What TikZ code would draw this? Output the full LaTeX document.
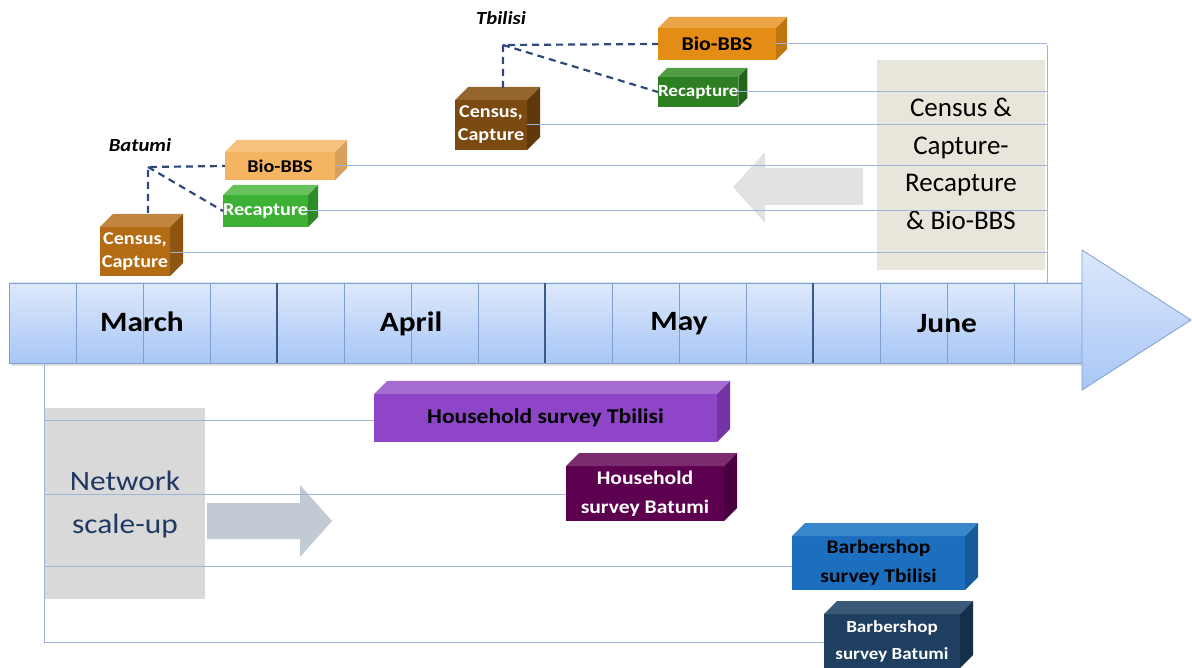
\documentclass[tikz,border=0pt]{standalone}
\usepackage{fontspec}
\setmainfont{Carlito}
\newfontfamily\cw{Carlito}[FakeStretch=1.12]
\definecolor{linec}{HTML}{9DB5D8}
\definecolor{dashc}{HTML}{2F4A78}
\definecolor{barT}{HTML}{DDE9FB}
\definecolor{barB}{HTML}{A8C6F6}
\definecolor{barD}{HTML}{7F9FCF}
\definecolor{barK}{HTML}{3A5A8A}
\definecolor{beige}{HTML}{E8E6DA}
\definecolor{netg}{HTML}{D9D9D9}
\definecolor{netarr}{HTML}{C2CAD3}
\definecolor{leftarr}{HTML}{E2E2E2}
\definecolor{navy}{HTML}{1F3864}
% cube colours: F front, T top, S side
\definecolor{bcenF}{HTML}{B46C14}\definecolor{bcenT}{HTML}{C08540}\definecolor{bcenS}{HTML}{8E5510}
\definecolor{bbioF}{HTML}{F4B461}\definecolor{bbioT}{HTML}{F6C27E}\definecolor{bbioS}{HTML}{D8A05A}
\definecolor{brecF}{HTML}{3DB036}\definecolor{brecT}{HTML}{66C25A}\definecolor{brecS}{HTML}{2E8A28}
\definecolor{tcenF}{HTML}{7A4A10}\definecolor{tcenT}{HTML}{94662E}\definecolor{tcenS}{HTML}{5E390C}
\definecolor{tbioF}{HTML}{E38D14}\definecolor{tbioT}{HTML}{EBA448}\definecolor{tbioS}{HTML}{C07610}
\definecolor{trecF}{HTML}{2E7F22}\definecolor{trecT}{HTML}{519C44}\definecolor{trecS}{HTML}{22641A}
\definecolor{hhtF}{HTML}{8E45C8}\definecolor{hhtT}{HTML}{A46BD0}\definecolor{hhtS}{HTML}{7434A6}
\definecolor{hhbF}{HTML}{5D0050}\definecolor{hhbT}{HTML}{7B2C6F}\definecolor{hhbS}{HTML}{480040}
\definecolor{bstF}{HTML}{1C6EBE}\definecolor{bstT}{HTML}{3A86CC}\definecolor{bstS}{HTML}{175A9C}
\definecolor{bsbF}{HTML}{1F3F60}\definecolor{bsbT}{HTML}{3A5A7A}\definecolor{bsbS}{HTML}{152F4A}
\begin{document}
\begin{tikzpicture}[x=1pt,y=-1pt,
  cub/.style={inner sep=0pt, outer sep=0pt, align=center, anchor=north west},
  tl/.style={draw=linec, line width=1pt},
  dsh/.style={draw=dashc, line width=2.2pt, dash pattern=on 7pt off 5pt},
  cellline/.style={draw=barD, line width=0.8pt},
  monthline/.style={draw=barK, line width=1.2pt},
  month/.style={font=\cw\fontsize{28}{34}\selectfont\bfseries},
  small/.style={font=\cw\fontsize{18}{23}\selectfont\bfseries},
  mid/.style={font=\cw\fontsize{19.3}{29}\selectfont\bfseries},
  city/.style={font=\cw\fontsize{18.5}{22}\selectfont\bfseries\itshape}]
\useasboundingbox (0,0) rectangle (1192,668);
\newcommand\cubefaces[4]{%
  \fill[#3] (#1.north west) -- ++(#2,-#2) -- ([shift={(#2,-#2)}]#1.north east) -- (#1.north east) -- cycle;
  \fill[#4] (#1.north east) -- ++(#2,-#2) -- ([shift={(#2,-#2)}]#1.south east) -- (#1.south east) -- cycle;}

% background panels
\fill[beige] (877,60) rectangle (1045,270);
\node[font=\fontsize{27}{37.5}\selectfont, align=center] (ccr) at (961,164)
  {Census \&\\Capture-\\Recapture\\\& Bio-BBS};
\fill[leftarr] (733,187) -- (765,152) -- (765,168) -- (863,168) -- (863,205) -- (765,205) -- (765,223) -- cycle;

\fill[netg] (44,408) rectangle (205,599);
\node[font=\cw\fontsize{28}{43}\selectfont, text=navy, align=center] (nsu) at (125,505)
  {Network\\scale-up};
\fill[netarr] (207,503) -- (300,503) -- (300,485) -- (332,521) -- (300,557) -- (300,539) -- (207,539) -- cycle;

% timeline bar
\fill[gray!25] (11,286) rectangle (1084,366);
\shade[top color=barT, bottom color=barB] (9,283) rectangle (1082,363);
\draw[barD, line width=0.8pt] (9,283) rectangle (1082,363);
\foreach \xx in {76,143,210,344,411,478,612,679,746,880,947,1014}
  \draw[cellline] (\xx,283) -- (\xx,363);
\foreach \xx in {277,545,813}
  \draw[monthline] (\xx,283) -- (\xx,363);
\shade[top color=barT, bottom color=barB] (1082,250) -- (1191,320) -- (1082,390) -- cycle;
\draw[barD, line width=0.8pt] (1082,250) -- (1191,320) -- (1082,390) -- cycle;
\node[month] (march) at (142,322) {March};
\node[month] (april) at (411,324) {April};
\node[month] (may) at (679,324) {May};
\node[month] (june) at (947,324) {June};

% Batumi cubes
\node[cub, small, fill=bcenF, text=white, minimum width=70pt, minimum height=49pt] (bcen) at (100,227) {Census,\\Capture};
\cubefaces{bcen}{13}{bcenT}{bcenS}
\node[cub, font=\cw\fontsize{18}{22}\selectfont\bfseries, fill=bbioF, text=black, minimum width=110pt, minimum height=28pt] (bbio) at (225,152) {Bio-BBS};
\cubefaces{bbio}{12}{bbioT}{bbioS}
\node[cub, small, fill=brecF, text=white, minimum width=82pt, minimum height=32pt] (brec) at (223,195) {Recapture};
\cubefaces{brec}{10}{brecT}{brecS}
\node[city] (batumi) at (140,145) {Batumi};

% Tbilisi cubes
\node[cub, small, fill=tcenF, text=white, minimum width=72pt, minimum height=50pt] (tcen) at (455,100) {Census,\\Capture};
\cubefaces{tcen}{13}{tcenT}{tcenS}
\node[cub, font=\cw\fontsize{19.5}{23}\selectfont\bfseries, fill=tbioF, text=black, minimum width=118pt, minimum height=32pt] (tbio) at (658,28) {Bio-BBS};
\cubefaces{tbio}{11}{tbioT}{tbioS}
\node[cub, font=\cw\fontsize{17}{21}\selectfont\bfseries, fill=trecF, text=white, minimum width=75pt, minimum height=30pt] (trec) at (658,77) {Recapture};
\cubefaces{trec}{9}{trecT}{trecS}
\node[city] (tbilisi) at (501,18) {Tbilisi};

% survey cubes
\node[cub, font=\cw\fontsize{21}{25}\selectfont\bfseries, fill=hhtF, text=black, minimum width=343pt, minimum height=48pt] (hht) at (374,394) {Household survey Tbilisi};
\cubefaces{hht}{13}{hhtT}{hhtS}
\node[cub, mid, fill=hhbF, text=white, minimum width=158pt, minimum height=55pt] (hhb) at (566,466) {Household\\survey Batumi};
\cubefaces{hhb}{13}{hhbT}{hhbS}
\node[cub, mid, fill=bstF, text=black, minimum width=173pt, minimum height=54pt] (bst) at (792,536) {Barbershop\\survey Tbilisi};
\cubefaces{bst}{13}{bstT}{bstS}
\node[cub, font=\cw\fontsize{17}{27}\selectfont\bfseries, fill=bsbF, text=white, minimum width=136pt, minimum height=54pt] (bsb) at (824,614) {Barbershop\\survey Batumi};
\cubefaces{bsb}{13}{bsbT}{bsbS}

% connector spines
\coordinate (vtop) at (1047,45);
\coordinate (vbot) at (1047,283);
\coordinate (ltop) at (44,363);
\coordinate (lbot) at (44,642);
\draw[tl] (vbot) -- (vtop);
\draw[tl] (ltop) -- (lbot);
\draw[tl] (tbio.east) -- (tbio.east -| vtop);
\draw[tl] (trec.east) -- (trec.east -| vtop);
\draw[tl] (tcen.east) -- (tcen.east -| vtop);
\draw[tl] (bbio.east) -- (bbio.east -| vtop);
\draw[tl] (brec.east) -- (brec.east -| vtop);
\draw[tl] ([yshift=-1]bcen.east) -- ([yshift=-1]bcen.east -| vtop);
\draw[tl] (ltop |- 0,420) -- (hht.west |- 0,420);
\draw[tl] (ltop |- 0,494) -- (hhb.west |- 0,494);
\draw[tl] (ltop |- 0,566) -- (bst.west |- 0,566);
\draw[tl] (lbot) -- (bsb.west |- lbot);

% dashed groupings
\coordinate (bj) at (148,167);
\draw[dsh] (148,213) -- (bj) -- (bbio.west);
\draw[dsh] (bj) -- (brec.west);
\coordinate (tj) at (503,45);
\draw[dsh] (503,88) -- (tj) -- (tbio.west);
\draw[dsh] (tj) -- (trec.west);
\end{tikzpicture}
\end{document}
